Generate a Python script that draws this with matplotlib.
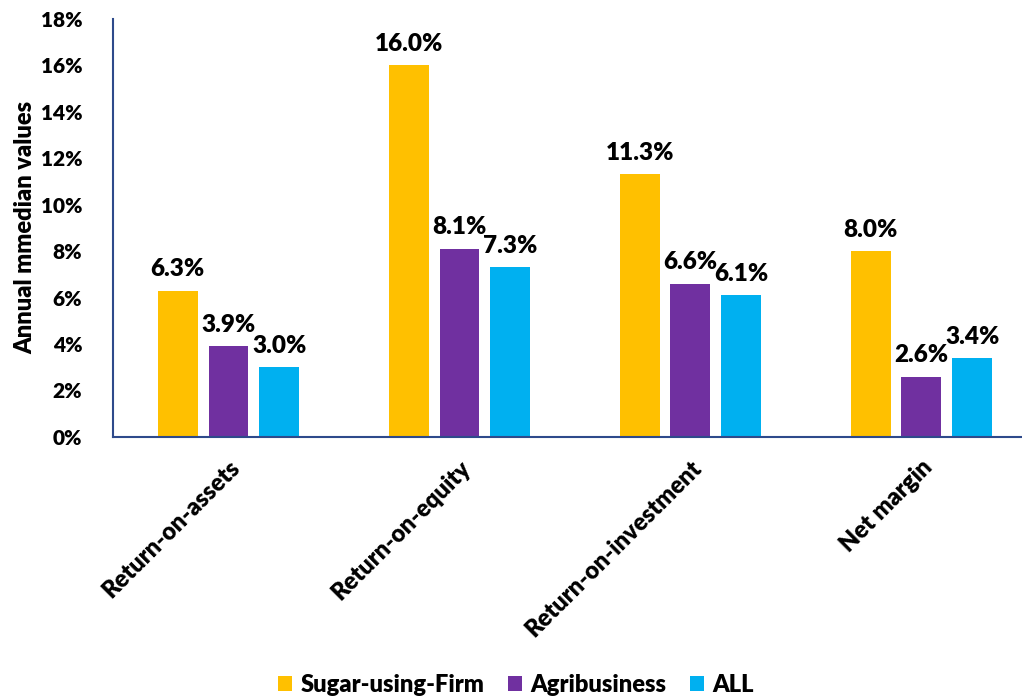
import matplotlib
matplotlib.use("Agg")
import matplotlib.pyplot as plt
import numpy as np

categories = ["Return-on-assets", "Return-on-equity", "Return-on-investment", "Net margin"]
series = ["Sugar-using-Firm", "Agribusiness", "ALL"]
sugar = [6.3, 16.0, 11.3, 8.0]
agri = [3.9, 8.1, 6.6, 2.6]
all_firms = [3.0, 7.3, 6.1, 3.4]
colors = ["#FFC000", "#7030A0", "#00B0F0"]

plt.rcParams['font.family'] = ['Lato', 'DejaVu Sans']
plt.rcParams['font.weight'] = 'heavy'

fig = plt.figure(figsize=(10.22, 6.98), dpi=100)
ax = fig.add_axes([0.1106, 0.374, 0.904, 0.599])

x = np.arange(len(categories))
width = 0.173
step = 0.22
for i, (vals, name, c) in enumerate(zip([sugar, agri, all_firms], series, colors)):
    pos = x + (i - 1) * step
    ax.bar(pos, vals, width, color=c, label=name)
    for p, v in zip(pos, vals):
        ax.text(p, v + 0.45, f"{v:.1f}%", ha='center', va='bottom',
                fontsize=17.5, fontweight='heavy')

ax.set_xlim(-0.5, 3.5)
ax.set_ylim(0, 18)
ax.set_yticks(range(0, 19, 2))
ax.set_yticklabels([f"{t}%" for t in range(0, 19, 2)], fontsize=15, fontweight='heavy')
ax.set_xticks(x)
ax.set_xticklabels(categories, rotation=45, ha='right', rotation_mode='anchor',
                   fontsize=17, fontweight='heavy')
ax.tick_params(axis='both', length=0)
ax.tick_params(axis='y', pad=22)
ax.tick_params(axis='x', pad=14)
ax.set_ylabel("Annual mmedian values", fontsize=17, fontweight='heavy', labelpad=3)

for s in ['top', 'right']:
    ax.spines[s].set_visible(False)
for s in ['left', 'bottom']:
    ax.spines[s].set_color('#2E4A8B')
    ax.spines[s].set_linewidth(1.5)

fig.legend(loc='lower center', bbox_to_anchor=(0.505, -0.028), ncol=3, frameon=False,
           prop={'size': 17, 'weight': 'heavy'}, handlelength=0.6, handleheight=0.6,
           columnspacing=1.0, handletextpad=0.35)

fig.savefig("out.png", dpi=100)
